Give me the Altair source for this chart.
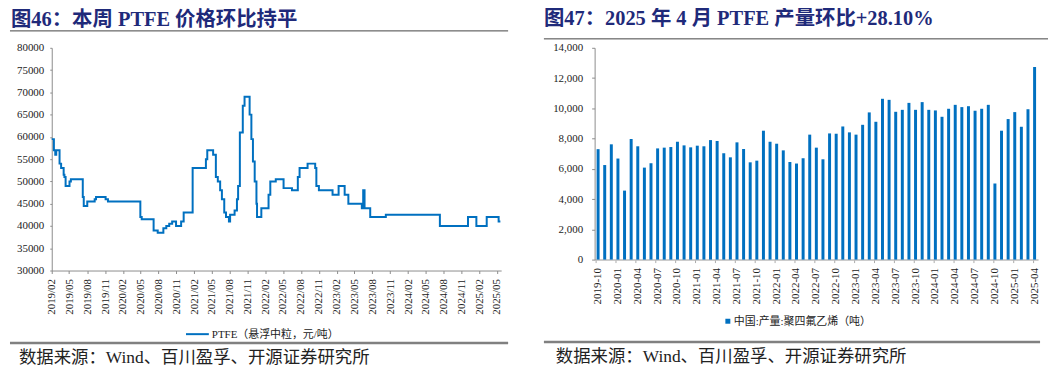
import altair as alt
import pandas as pd

BLUE = "#0070C0"
NAVY = "#1F2A7A"
SERIF = "Liberation Serif, Noto Sans CJK SC"
AXIS_GREY = "#8c8c8c"

# ---------------- left chart data: PTFE price (yuan/ton) ----------------
price_dates = [
    "2019-02-01", "2019-02-12", "2019-02-19", "2019-02-24", "2019-03-13", "2019-03-21",
    "2019-04-03", "2019-04-07", "2019-04-13", "2019-05-03", "2019-05-10", "2019-07-10",
    "2019-07-15", "2019-08-02", "2019-09-09", "2019-09-16", "2019-11-04", "2019-11-16",
    "2020-04-30", "2020-05-07", "2020-07-07", "2020-07-28", "2020-08-26", "2020-09-10",
    "2020-09-25", "2020-10-10", "2020-10-30", "2020-11-25", "2020-12-08", "2021-01-23",
    "2021-04-01", "2021-04-08", "2021-05-08", "2021-05-22", "2021-06-01", "2021-06-13",
    "2021-06-22", "2021-07-04", "2021-07-13", "2021-07-28", "2021-08-03", "2021-08-26",
    "2021-09-07", "2021-09-13", "2021-09-22", "2021-10-07", "2021-10-16", "2021-11-11",
    "2021-11-20", "2021-11-28", "2021-12-07", "2021-12-16", "2021-12-19", "2022-01-10",
    "2022-02-16", "2022-02-25", "2022-03-25", "2022-05-04", "2022-06-16", "2022-07-16",
    "2022-07-25", "2022-09-04", "2022-10-13", "2022-10-19", "2022-11-01", "2023-01-10",
    "2023-02-10", "2023-03-13", "2023-04-01", "2023-06-09", "2023-06-16", "2023-06-23",
    "2023-07-22", "2023-10-10", "2024-07-13", "2024-12-04", "2025-01-16", "2025-03-10",
    "2025-05-10", "2025-05-19",
]
price_values = [
    59500, 57000, 56000, 57000, 54000, 53000,
    51500, 51000, 49000, 50000, 50500, 46500,
    44500, 45500, 46000, 46500, 46000, 45500,
    42000, 41500, 39000, 38500, 39500, 40000,
    40500, 41000, 40000, 41000, 43000, 53000,
    55000, 57000, 56000, 51000, 50000, 48000,
    46000, 43000, 42000, 41000, 42500, 43500,
    46000, 49000, 61000, 67000, 69000, 65000,
    59500, 54500, 50000, 45000, 42000, 44000,
    47000, 50000, 50500, 48500, 48000, 51000,
    53000, 54000, 53000, 49000, 48000, 47000,
    49000, 47000, 45000, 44000, 48000, 44000,
    42000, 42500, 40000, 42000, 40000, 42000,
    41000, 41000,
]
left_tick_labels = [
    "2019-02", "2019-05", "2019-08", "2019-11", "2020-02", "2020-05", "2020-08",
    "2020-11", "2021-02", "2021-05", "2021-08", "2021-11", "2022-02", "2022-05",
    "2022-08", "2022-11", "2023-02", "2023-05", "2023-08", "2023-11", "2024-02",
    "2024-05", "2024-08", "2024-11", "2025-02", "2025-05",
]
left_y_ticks = [30000, 35000, 40000, 45000, 50000, 55000, 60000, 65000, 70000, 75000, 80000]

# ---------------- right chart data: PTFE production (tons) ----------------
prod_months = [str(p) for p in pd.period_range("2019-10", "2025-04", freq="M")]
prod_values = [
    7300, 6250, 7620,
    6680, 4560, 7970, 7490, 6080, 6370, 7350, 7400, 7440, 7790, 7550, 7420,
    7530, 7490, 7900, 7840, 7030, 6760, 7750, 7310, 6430, 6540, 8520, 7790,
    7660, 7220, 6450, 6350, 6700, 8260, 7400, 6630, 8340, 8320, 8800, 8410,
    8260, 8910, 9730, 9110, 10630, 10560, 9770, 9900, 10360, 9900, 10410, 9900,
    9860, 9440, 9970, 10230, 10080, 10140, 9840, 9970, 10230, 5030, 8520, 9290,
    9750, 8780, 9940, 12730,
]
right_y_ticks = [0, 2000, 4000, 6000, 8000, 10000, 12000, 14000]

left_title = "图46：本周 PTFE 价格环比持平"
right_title = "图47：2025 年 4 月 PTFE 产量环比+28.10%"
left_legend = "PTFE（悬浮中粒，元/吨）"
right_legend = "中国:产量:聚四氟乙烯（吨）"
source_text = "数据来源：Wind、百川盈孚、开源证券研究所"

LW, LH = 452, 224
RW, RH = 446, 213


def text_layer(txt, x, y, size, weight="normal", color="#222", font=SERIF, align="left"):
    return alt.Chart(pd.DataFrame({"t": [txt]})).mark_text(
        align=align, baseline="alphabetic", fontSize=size, fontWeight=weight,
        color=color, font=font,
    ).encode(x=alt.value(x), y=alt.value(y), text="t:N")


def hrule(x1, x2, y, color, width):
    return alt.Chart(pd.DataFrame({"a": [0]})).mark_rule(
        color=color, strokeWidth=width
    ).encode(x=alt.value(x1), x2=alt.value(x2), y=alt.value(y))


# ---------------- left panel ----------------
price_df = pd.DataFrame({
    "date": [d + "T00:00:00" for d in price_dates],
    "price": price_values,
})

left_line = alt.Chart(price_df).mark_line(
    interpolate="step-after", color=BLUE, strokeWidth=2
).encode(
    x=alt.X(
        "date:T",
        scale=alt.Scale(domain=[alt.DateTime(year=2019, month=2, date=1),
                                alt.DateTime(year=2025, month=5, date=23)]),
        axis=alt.Axis(
            values=[alt.DateTime(year=int(s[:4]), month=int(s[5:]), date=1) for s in left_tick_labels],
            format="%Y/%m", labelAngle=270, title=None, grid=False,
            labelFont=SERIF, labelFontSize=11, labelColor="#222",
            labelFlush=False, labelOverlap=False, labelPadding=5,
            tickSize=3, tickColor=AXIS_GREY, domainColor=AXIS_GREY,
        ),
    ),
    y=alt.Y(
        "price:Q",
        scale=alt.Scale(domain=[30000, 80000], nice=False, zero=False),
        axis=alt.Axis(
            values=left_y_ticks, format="d", title=None, grid=False,
            labelFont=SERIF, labelFontSize=11, labelColor="#222",
            labelPadding=6, tickSize=2, tickColor=AXIS_GREY, domainColor=AXIS_GREY,
        ),
    ),
)

left_legend_line = alt.Chart(pd.DataFrame({"a": [0]})).mark_rule(
    color=BLUE, strokeWidth=2
).encode(x=alt.value(135), x2=alt.value(158), y=alt.value(288))

left = alt.layer(
    left_line,
    text_layer(left_title, -41, -22, 20.5, "bold", NAVY),
    hrule(-42, 459, -17, "#444", 1),
    left_legend_line,
    text_layer(left_legend, 161, 292, 11),
    hrule(-42, 459, 297, "#808080", 2.5),
    text_layer(source_text, -33, 317, 17.5),
).properties(width=LW, height=LH)

# ---------------- right panel ----------------
prod_df = pd.DataFrame({"month": prod_months, "value": prod_values})

right_bars = alt.Chart(prod_df).mark_bar(color=BLUE).encode(
    x=alt.X(
        "month:O", sort=None,
        scale=alt.Scale(paddingInner=0.55, paddingOuter=0.3),
        axis=alt.Axis(
            values=prod_months[::3], labelAngle=270, title=None, grid=False,
            labelFont=SERIF, labelFontSize=11, labelColor="#222",
            labelPadding=5, tickSize=3, bandPosition=0,
            tickColor="#aaaaaa", domainColor="#bbbbbb", domainWidth=1.5,
        ),
    ),
    y=alt.Y(
        "value:Q",
        scale=alt.Scale(domain=[0, 14000], nice=False),
        axis=alt.Axis(
            values=right_y_ticks, format=",d", title=None, grid=False,
            labelFont=SERIF, labelFontSize=11, labelColor="#222",
            labelPadding=9, tickSize=3, tickColor=AXIS_GREY, domainColor=AXIS_GREY,
        ),
    ),
)

right_legend_sq = alt.Chart(pd.DataFrame({"a": [0]})).mark_square(
    color=BLUE, size=25, opacity=1
).encode(x=alt.value(134), y=alt.value(275))

right = alt.layer(
    right_bars,
    text_layer(right_title, -51, -23, 20.5, "bold", NAVY),
    hrule(-51, 456, -9, "#444", 1),
    right_legend_sq,
    text_layer(right_legend, 140, 279, 11),
    hrule(-51, 448, 296, "#808080", 2.5),
    text_layer(source_text, -39, 316, 17.5),
).properties(width=RW, height=RH)

chart = alt.hconcat(left, right, spacing=32).properties(
    padding={"left": 0, "top": 0, "right": 0, "bottom": 0}
).configure_view(stroke=None)

chart.save("out.html", embed_options={"renderer": "svg", "actions": False})
